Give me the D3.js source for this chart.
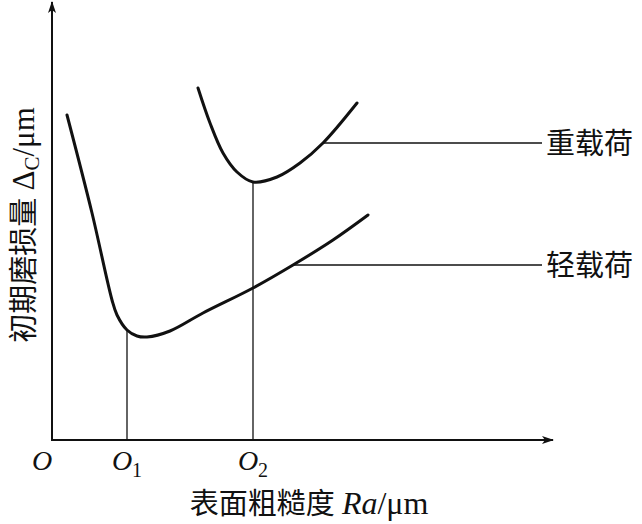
<!DOCTYPE html>
<html>
<head>
<meta charset="utf-8">
<script src="https://cdn.jsdelivr.net/npm/d3@7"></script>
<style>
  body { margin: 0; background: #fff; }
  svg text { fill: #111; }
</style>
</head>
<body>
<svg id="svg" width="642" height="524"></svg>
<script>
// curve points (Ra, wear), arbitrary units
var lightX = [0.3, 0.8, 1.2, 1.3, 1.5, 1.7, 1.9, 2.36, 3.02, 4.02, 4.82, 5.62, 6.32];
var lightY = [6.5, 4.54, 2.8, 2.5, 2.2, 2.08, 2.06, 2.18, 2.54, 3.04, 3.5, 4.0, 4.5];
var heavyX = [2.92, 3.16, 3.42, 3.7, 4.02, 4.5, 4.96, 5.42, 6.1];
var heavyY = [7.04, 6.34, 5.74, 5.36, 5.16, 5.26, 5.54, 5.94, 6.74];

// O, O1, O2 marks on the x axis
var tickPos = [0, 1.5, 4.02];
var tickMain = ["O", "O", "O"];
var tickSub = ["", "1", "2"];
var tickTop = [null, 2.2, 5.16];   // where the drop lines meet the curves

var seriesNames = ["重载荷", "轻载荷"];
var leaderAt = [5.42, 4.82];        // x where the label leader touches its curve
var leaderY = [5.94, 3.5];

var svg = d3.select("#svg"),
    origin = { x: 52, y: 440 };

var x = d3.scaleLinear().domain([0, 10]).range([origin.x, origin.x + 500]);
var y = d3.scaleLinear().domain([0, 8]).range([origin.y, origin.y - 400]);

var cjk = "'Liberation Serif', 'Noto Sans CJK SC', serif";

// axes with arrow heads
svg.append("defs").append("marker")
    .attr("id", "arrow")
    .attr("viewBox", "0 0 12 8")
    .attr("refX", 11).attr("refY", 4)
    .attr("markerWidth", 12).attr("markerHeight", 8)
    .attr("markerUnits", "userSpaceOnUse")
    .attr("orient", "auto")
    .append("path")
    .attr("d", "M0,0 L12,4 L0,8 L3,4 Z")
    .style("fill", "#111");

svg.append("line")
    .attr("x1", x(0)).attr("y1", y(0))
    .attr("x2", x(0)).attr("y2", 2)
    .style("stroke", "#111").style("stroke-width", 2)
    .attr("marker-end", "url(#arrow)");

svg.append("line")
    .attr("x1", x(0) - 1).attr("y1", y(0))
    .attr("x2", 553).attr("y2", y(0))
    .style("stroke", "#111").style("stroke-width", 2)
    .attr("marker-end", "url(#arrow)");

// curves
var line = d3.line()
    .x(d => x(d[0]))
    .y(d => y(d[1]))
    .curve(d3.curveCatmullRom.alpha(0.5));

var light = lightX.map((v, i) => [v, lightY[i]]);
var heavy = heavyX.map((v, i) => [v, heavyY[i]]);

svg.selectAll(".curve")
    .data([heavy, light])
    .enter().append("path")
    .classed("curve", true)
    .attr("d", line)
    .style("fill", "none")
    .style("stroke", "#111")
    .style("stroke-width", 3)
    .style("stroke-linecap", "round");

// drop lines from the minima
svg.selectAll(".drop")
    .data(tickPos.filter((d, i) => tickTop[i] !== null))
    .enter().append("line")
    .classed("drop", true)
    .attr("x1", d => x(d)).attr("x2", d => x(d))
    .attr("y1", y(0))
    .attr("y2", d => y(tickTop[tickPos.indexOf(d)]))
    .style("stroke", "#111").style("stroke-width", 1.3);

// tick labels
var tl = svg.selectAll(".tick")
    .data(tickPos)
    .enter().append("text")
    .classed("tick", true)
    .attr("x", (d, i) => x(d) + (i === 0 ? -10 : 0))
    .attr("y", y(0) + 30)
    .attr("text-anchor", "middle")
    .style("font-family", "'Liberation Serif', serif")
    .style("font-size", "28px");
tl.append("tspan")
    .style("font-style", "italic")
    .text((d, i) => tickMain[i]);
tl.append("tspan")
    .attr("dy", 7)
    .style("font-size", "20px")
    .text((d, i) => tickSub[i]);

// leaders and series labels
svg.selectAll(".leader")
    .data(leaderAt)
    .enter().append("line")
    .classed("leader", true)
    .attr("x1", d => x(d)).attr("x2", 542)
    .attr("y1", (d, i) => y(leaderY[i])).attr("y2", (d, i) => y(leaderY[i]))
    .style("stroke", "#111").style("stroke-width", 1.3);

svg.selectAll(".name")
    .data(seriesNames)
    .enter().append("text")
    .classed("name", true)
    .attr("x", 546)
    .attr("y", (d, i) => y(leaderY[i]) + 11)
    .style("font-family", cjk)
    .style("font-size", "29px")
    .text(d => d);

// axis titles
var xt = svg.append("text")
    .attr("x", 309).attr("y", 514)
    .attr("text-anchor", "middle")
    .style("font-family", cjk)
    .style("font-size", "29px");
xt.append("tspan").text("表面粗糙度 ");
xt.append("tspan").style("font-style", "italic").style("font-size", "32px").text("Ra");
xt.append("tspan").style("font-size", "32px").text("/μm");

var yt = svg.append("text")
    .attr("transform", "translate(34,225) rotate(-90)")
    .attr("text-anchor", "middle")
    .style("font-family", cjk)
    .style("font-size", "29px");
yt.append("tspan").text("初期磨损量 ");
yt.append("tspan").style("font-size", "31px").text("Δ");
yt.append("tspan").attr("dy", 5).style("font-size", "21px").text("C");
yt.append("tspan").attr("dy", -5).style("font-size", "31px").text("/μm");
</script>
</body>
</html>
